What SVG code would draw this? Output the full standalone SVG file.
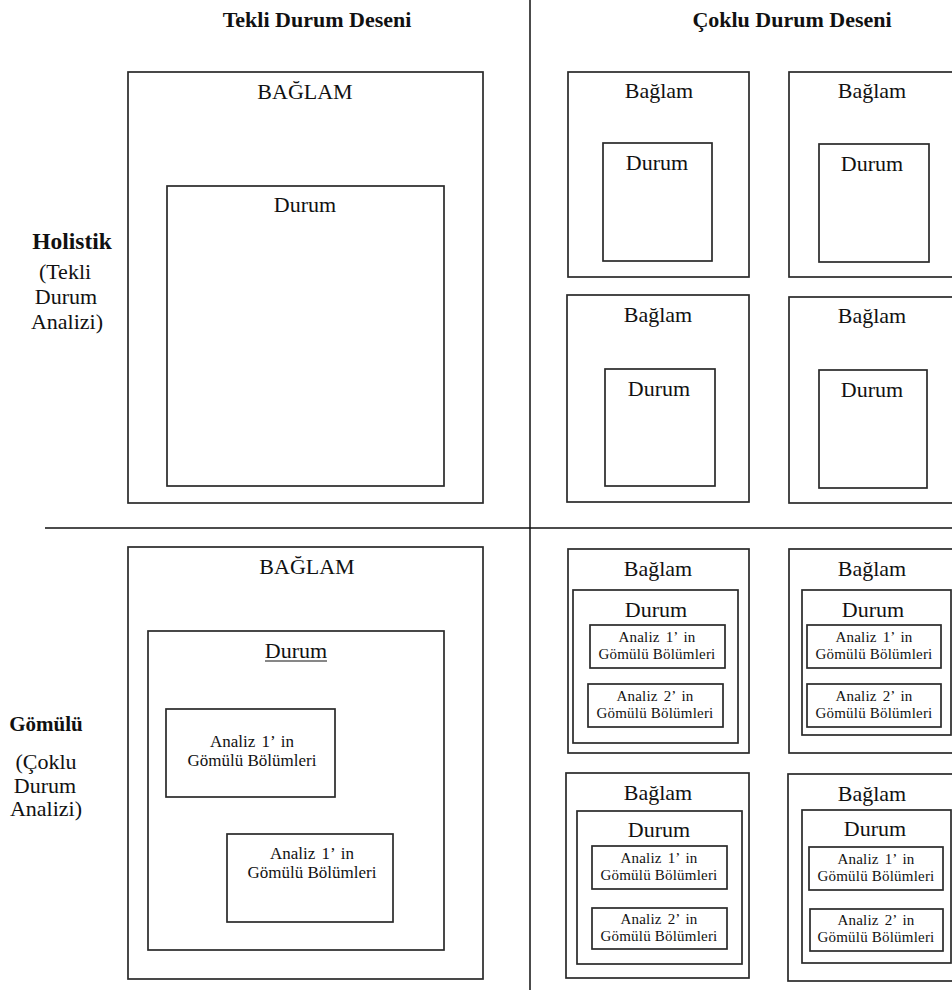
<svg xmlns="http://www.w3.org/2000/svg" width="952" height="990" viewBox="0 0 952 990">
  <style>
    text { font-family: "Liberation Serif", "Times New Roman", serif; fill: #111; text-anchor: middle; }
    .title { font-size: 22px; font-weight: bold; }
    .row { font-size: 21px; font-weight: bold; }
    .row.big { font-size: 23.5px; }
    .sub { font-size: 22px; }
    .ctx { font-size: 22px; }
    .case { font-size: 22px; }
    .unit { font-size: 15px; letter-spacing: 0.2px; }
    .unitL { font-size: 17px; }
    .first { word-spacing: 2px; }
    rect { fill: none; stroke: #2a2a2a; stroke-width: 1.7; }
    .grid line { stroke: #111; stroke-width: 1.5; }
  </style>

  <!-- quadrant dividers -->
  <g id="grid" class="grid">
    <line x1="530" y1="0" x2="530" y2="990"/>
    <line x1="45" y1="528" x2="952" y2="528"/>
  </g>

  <!-- column and row headings -->
  <g id="headings">
    <text class="title" x="317" y="27">Tekli Durum Deseni</text>
    <text class="title" x="792" y="27">Çoklu Durum Deseni</text>
    <text class="row big" x="72" y="249">Holistik</text>
    <text class="sub" x="65" y="279">(Tekli</text>
    <text class="sub" x="66" y="304">Durum</text>
    <text class="sub" x="67" y="329">Analizi)</text>
    <text class="row" x="46" y="731">Gömülü</text>
    <text class="sub" x="46" y="769">(Çoklu</text>
    <text class="sub" x="45" y="793">Durum</text>
    <text class="sub" x="46" y="816">Analizi)</text>
  </g>

  <!-- single case, holistic -->
  <g id="tekli-holistik">
    <rect x="128" y="72" width="355" height="431"/>
    <text class="ctx" x="305" y="99">BAĞLAM</text>
    <rect x="167" y="186" width="277" height="300"/>
    <text class="case" x="305" y="212">Durum</text>
  </g>

  <!-- multiple cases, holistic -->
  <g id="coklu-holistik-1">
    <rect x="568" y="72" width="181" height="205"/>
    <text class="ctx" x="659" y="98">Bağlam</text>
    <rect x="603" y="143" width="109" height="118"/>
    <text class="case" x="657" y="170">Durum</text>
  </g>
  <g id="coklu-holistik-2">
    <rect x="789" y="72" width="175" height="205"/>
    <text class="ctx" x="872" y="98">Bağlam</text>
    <rect x="819" y="144" width="110" height="118"/>
    <text class="case" x="872" y="171">Durum</text>
  </g>
  <g id="coklu-holistik-3">
    <rect x="567" y="295" width="182" height="207"/>
    <text class="ctx" x="658" y="322">Bağlam</text>
    <rect x="605" y="369" width="110" height="117"/>
    <text class="case" x="659" y="396">Durum</text>
  </g>
  <g id="coklu-holistik-4">
    <rect x="789" y="297" width="175" height="206"/>
    <text class="ctx" x="872" y="323">Bağlam</text>
    <rect x="819" y="370" width="108" height="118"/>
    <text class="case" x="872" y="397">Durum</text>
  </g>

  <!-- single case, embedded -->
  <g id="tekli-gomulu">
    <rect x="128" y="547" width="355" height="432"/>
    <text class="ctx" x="307" y="574">BAĞLAM</text>
    <rect x="148" y="631" width="296" height="319"/>
    <text class="case" x="296" y="658">Durum</text>
    <line x1="265" y1="661" x2="327" y2="661" stroke="#111" stroke-width="1.2"/>
    <rect x="166" y="709" width="169" height="88"/>
    <text class="unitL"><tspan class="first" x="252" y="747">Analiz 1’ in</tspan><tspan x="252" y="766">Gömülü Bölümleri</tspan></text>
    <rect x="227" y="834" width="166" height="88"/>
    <text class="unitL"><tspan class="first" x="312" y="859">Analiz 1’ in</tspan><tspan x="312" y="878">Gömülü Bölümleri</tspan></text>
  </g>

  <!-- multiple cases, embedded -->
  <g id="coklu-gomulu-1">
    <rect x="568" y="549" width="181" height="204"/>
    <text class="ctx" x="658" y="576">Bağlam</text>
    <rect x="573" y="590" width="165" height="153"/>
    <text class="case" x="656" y="617">Durum</text>
    <rect x="590" y="625" width="135" height="43"/>
    <text class="unit"><tspan class="first" x="657" y="642">Analiz 1’ in</tspan><tspan x="657" y="659">Gömülü Bölümleri</tspan></text>
    <rect x="588" y="684" width="135" height="43"/>
    <text class="unit"><tspan class="first" x="655" y="701">Analiz 2’ in</tspan><tspan x="655" y="718">Gömülü Bölümleri</tspan></text>
  </g>
  <g id="coklu-gomulu-2">
    <rect x="789" y="549" width="175" height="204"/>
    <text class="ctx" x="872" y="576">Bağlam</text>
    <rect x="802" y="590" width="149" height="145"/>
    <text class="case" x="873" y="617">Durum</text>
    <rect x="807" y="625" width="134" height="43"/>
    <text class="unit"><tspan class="first" x="874" y="642">Analiz 1’ in</tspan><tspan x="874" y="659">Gömülü Bölümleri</tspan></text>
    <rect x="807" y="684" width="134" height="43"/>
    <text class="unit"><tspan class="first" x="874" y="701">Analiz 2’ in</tspan><tspan x="874" y="718">Gömülü Bölümleri</tspan></text>
  </g>
  <g id="coklu-gomulu-3">
    <rect x="566" y="773" width="183" height="205"/>
    <text class="ctx" x="658" y="800">Bağlam</text>
    <rect x="577" y="811" width="165" height="153"/>
    <text class="case" x="659" y="837">Durum</text>
    <rect x="592" y="846" width="135" height="43"/>
    <text class="unit"><tspan class="first" x="659" y="863">Analiz 1’ in</tspan><tspan x="659" y="880">Gömülü Bölümleri</tspan></text>
    <rect x="592" y="908" width="135" height="41"/>
    <text class="unit"><tspan class="first" x="659" y="924">Analiz 2’ in</tspan><tspan x="659" y="941">Gömülü Bölümleri</tspan></text>
  </g>
  <g id="coklu-gomulu-4">
    <rect x="788" y="774" width="176" height="207"/>
    <text class="ctx" x="872" y="801">Bağlam</text>
    <rect x="802" y="810" width="149" height="153"/>
    <text class="case" x="875" y="836">Durum</text>
    <rect x="809" y="847" width="134" height="43"/>
    <text class="unit"><tspan class="first" x="876" y="864">Analiz 1’ in</tspan><tspan x="876" y="881">Gömülü Bölümleri</tspan></text>
    <rect x="810" y="909" width="133" height="42"/>
    <text class="unit"><tspan class="first" x="876" y="925">Analiz 2’ in</tspan><tspan x="876" y="942">Gömülü Bölümleri</tspan></text>
  </g>
</svg>
